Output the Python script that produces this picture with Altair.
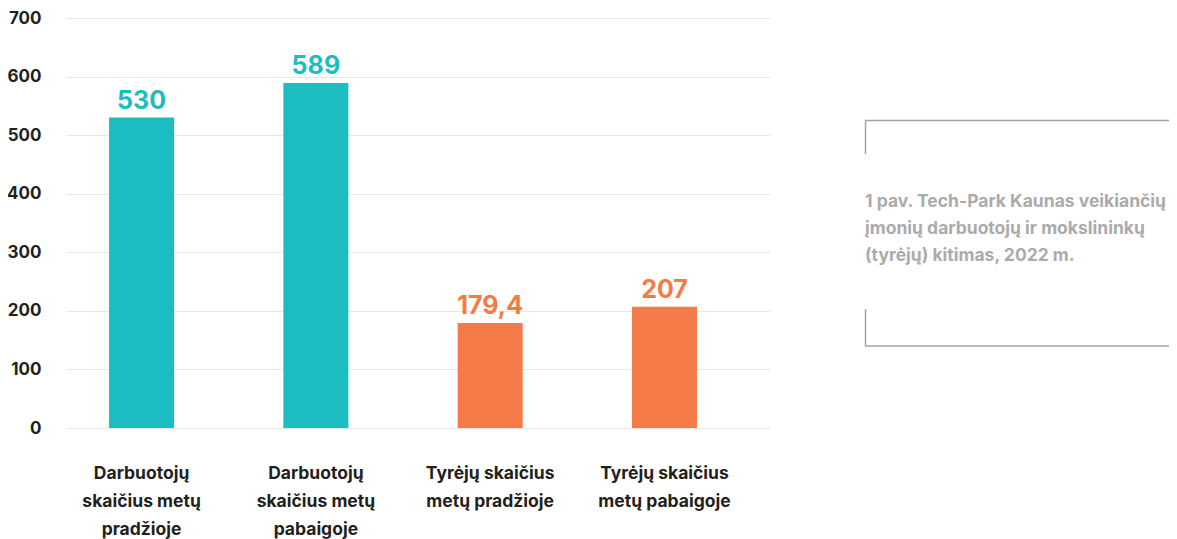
import altair as alt
import pandas as pd

categories = [
    "Darbuotojų\nskaičius metų\npradžioje",
    "Darbuotojų\nskaičius metų\npabaigoje",
    "Tyrėjų skaičius\nmetų pradžioje",
    "Tyrėjų skaičius\nmetų pabaigoje",
]
values = [530, 589, 179.4, 207]
groups = ["Darbuotojai", "Darbuotojai", "Tyrėjai", "Tyrėjai"]
group_domain = ["Darbuotojai", "Tyrėjai"]
group_colors = ["#1BBDC0", "#F47B47"]
y_ticks = [0, 100, 200, 300, 400, 500, 600, 700]
caption_lines = [
    "1 pav. Tech-Park Kaunas veikiančių",
    "įmonių darbuotojų ir mokslininkų",
    "(tyrėjų) kitimas, 2022 m.",
]

labels = [(str(int(v)) if float(v).is_integer() else str(v).replace(".", ",")) for v in values]

df = pd.DataFrame({"category": categories, "value": values, "label": labels, "group": groups})
cap_df = pd.DataFrame({"caption": ["\n".join(caption_lines)]})
one = pd.DataFrame({"k": [0]})

FONT = "Inter"

x_enc = alt.X(
    "category:N",
    sort=categories,
    title=None,
    scale=alt.Scale(paddingInner=0.627, paddingOuter=0.333, align=0.371),
    axis=alt.Axis(
        labelExpr="split(datum.label, '\\n')",
        labelAngle=0,
        labelLimit=0,
        labelFont=FONT,
        labelFontSize=17.5,
        labelFontWeight="bold",
        labelColor="#231F20",
        labelLineHeight=28,
        labelBaseline="top",
        labelPadding=36,
        ticks=False,
        domain=False,
        grid=False,
    ),
)
y_enc = alt.Y(
    "value:Q",
    title=None,
    scale=alt.Scale(domain=[0, 700], nice=False),
    axis=alt.Axis(
        values=y_ticks,
        labelFont=FONT,
        labelFontSize=17,
        labelFontWeight="bold",
        labelColor="#231F20",
        labelPadding=25,
        ticks=False,
        domain=False,
        grid=True,
        gridColor="#ECE6E8",
        gridWidth=1.2,
    ),
)
color_enc = alt.Color(
    "group:N",
    scale=alt.Scale(domain=group_domain, range=group_colors),
    legend=None,
)

bars = alt.Chart(df).mark_bar().encode(x=x_enc, y=y_enc, color=color_enc)
texts = alt.Chart(df).mark_text(
    dy=-9, baseline="alphabetic", fontSize=25, fontWeight="bold", font=FONT
).encode(x=alt.X("category:N", sort=categories), y="value:Q", text="label:N", color=color_enc)

caption = alt.Chart(cap_df).mark_text(
    align="left", baseline="top", fontSize=17.5, fontWeight="bold", color="#ABABAB",
    lineHeight=27, lineBreak="\n", font=FONT,
).encode(x=alt.value(799), y=alt.value(175), text="caption:N")

rule_style = dict(color="#A3A3A3", strokeWidth=1.5)
r1 = alt.Chart(one).mark_rule(**rule_style).encode(x=alt.value(799), x2=alt.value(1115), y=alt.value(102.5))
r2 = alt.Chart(one).mark_rule(**rule_style).encode(x=alt.value(799.5), y=alt.value(102.5), y2=alt.value(136))
r3 = alt.Chart(one).mark_rule(**rule_style).encode(x=alt.value(799.5), y=alt.value(291), y2=alt.value(328))
r4 = alt.Chart(one).mark_rule(**rule_style).encode(x=alt.value(799), x2=alt.value(1115), y=alt.value(328))

chart = (
    alt.layer(bars, texts, caption, r1, r2, r3, r4)
    .properties(
        width=704,
        height=410,
        autosize=alt.AutoSizeParams(type="none"),
        padding={"left": 58, "top": 10, "right": 399, "bottom": 113},
    )
    .configure(font=FONT)
    .configure_view(stroke=None, strokeWidth=0)
)

chart.save("out.html", embed_options={"renderer": "svg", "actions": False})
